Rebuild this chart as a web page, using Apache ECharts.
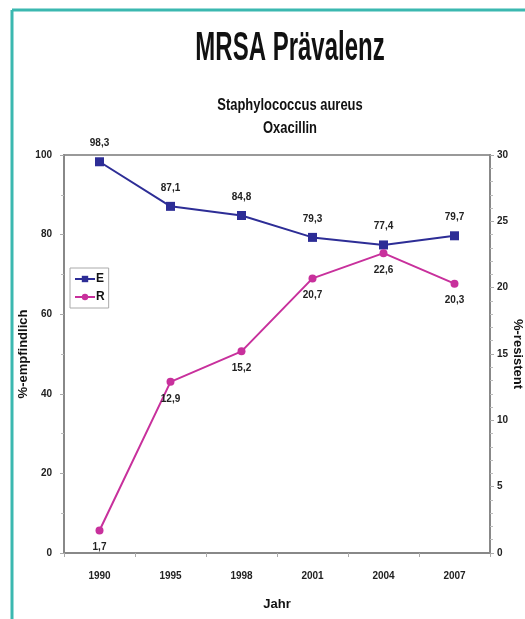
<!DOCTYPE html>
<html><head><meta charset="utf-8">
<script src="https://cdn.jsdelivr.net/npm/echarts@6/dist/echarts.min.js"></script>
<style>html,body{margin:0;padding:0;background:#fff}#c{width:525px;height:619px}</style>
</head><body><div id="c"></div>
<script>
const years = ['1990','1995','1998','2001','2004','2007'];
const seriesE = [98.3, 87.1, 84.8, 79.3, 77.4, 79.7];
const seriesR = [1.7, 12.9, 15.2, 20.7, 22.6, 20.3];
const titleText = 'MRSA Prävalenz';
const subtitle1 = 'Staphylococcus aureus';
const subtitle2 = 'Oxacillin';

const F = "'Liberation Sans',Arial,sans-serif";
const fmt = p => String(p.value).replace('.', ',');
const chart = echarts.init(document.getElementById('c'));
chart.setOption({
  animation: false,
  backgroundColor: '#fff',
  graphic: [
    {type:'line', shape:{x1:12,y1:10,x2:530,y2:10}, style:{stroke:'#3bb8b0', lineWidth:3}},
    {type:'line', shape:{x1:12,y1:10,x2:12,y2:630}, style:{stroke:'#3bb8b0', lineWidth:3}},
    {type:'text', x:290, y:49, scaleX:0.6,
     style:{text:titleText, fontFamily:F, fontWeight:'bold', fontSize:40, fill:'#111',
            textAlign:'center', textVerticalAlign:'middle'}},
    {type:'text', x:290, y:106, scaleX:0.81,
     style:{text:subtitle1, fontFamily:F, fontWeight:'bold', fontSize:16, fill:'#111',
            textAlign:'center', textVerticalAlign:'middle'}},
    {type:'text', x:290, y:129, scaleX:0.81,
     style:{text:subtitle2, fontFamily:F, fontWeight:'bold', fontSize:16, fill:'#111',
            textAlign:'center', textVerticalAlign:'middle'}}
  ],
  legend: {
    orient:'vertical', left:70, top:268, padding:[5,4,5,4], itemGap:6,
    borderColor:'#aaa', borderWidth:1, backgroundColor:'#fff',
    itemWidth:20, itemHeight:8,
    textStyle:{fontFamily:F, fontWeight:'bold', fontSize:12, color:'#111', padding:[0,0,0,-4]},
    data:['E','R']
  },
  grid: {left:64, right:35, top:155, bottom:66, show:true, borderColor:'#999', borderWidth:2,
         containLabel:false, outerBoundsMode:'none'},
  xAxis: {
    type:'category', data: years, boundaryGap:true,
    name:'Jahr', nameLocation:'middle', nameGap:45, nameMoveOverlap:false,
    nameTextStyle:{fontFamily:F, fontWeight:'bold', fontSize:13, color:'#111'},
    axisLine:{lineStyle:{color:'#888', width:2}},
    axisTick:{show:true, length:4, lineStyle:{color:'#aaa'}},
    axisLabel:{fontFamily:F, fontWeight:'bold', fontSize:10, color:'#222', margin:18}
  },
  yAxis: [
    {type:'value', min:0, max:100, interval:20, position:'left',
     name:'%-empfindlich', nameLocation:'middle', nameGap:34, nameRotate:90, nameMoveOverlap:false,
     nameTextStyle:{fontFamily:F, fontWeight:'bold', fontSize:13, color:'#111'},
     axisLine:{show:true, lineStyle:{color:'#888', width:2}},
     axisTick:{show:true, length:4, lineStyle:{color:'#aaa'}},
     minorTick:{show:true, splitNumber:2, length:3, lineStyle:{color:'#bbb'}},
     splitLine:{show:false},
     axisLabel:{fontFamily:F, fontWeight:'bold', fontSize:10, color:'#222', margin:12}},
    {type:'value', min:0, max:30, interval:5, position:'right',
     name:'%-resistent', nameLocation:'middle', nameGap:21, nameRotate:-90, nameMoveOverlap:false,
     nameTextStyle:{fontFamily:F, fontWeight:'bold', fontSize:13, color:'#111'},
     axisLine:{show:true, lineStyle:{color:'#888', width:2}},
     axisTick:{show:true, length:4, lineStyle:{color:'#aaa'}},
     minorTick:{show:true, splitNumber:5, length:3, lineStyle:{color:'#bbb'}},
     splitLine:{show:false},
     axisLabel:{fontFamily:F, fontWeight:'bold', fontSize:10, color:'#222', margin:7}},
    
  ],
  series: [
    {name:'E', type:'line', yAxisIndex:0, data: seriesE, symbol:'rect', symbolSize:9,
     itemStyle:{color:'#2d2d96'}, lineStyle:{color:'#2d2d96', width:2},
     label:{show:true, position:'top', distance:9, formatter:fmt,
            fontFamily:F, fontWeight:'bold', fontSize:10, color:'#222'}},
    {name:'R', type:'line', yAxisIndex:1, data: seriesR, symbol:'circle', symbolSize:8,
     itemStyle:{color:'#c8309c'}, lineStyle:{color:'#c8309c', width:2},
     label:{show:true, position:'bottom', distance:8, formatter:fmt,
            fontFamily:F, fontWeight:'bold', fontSize:10, color:'#222'}}
  ]
});
</script></body></html>
